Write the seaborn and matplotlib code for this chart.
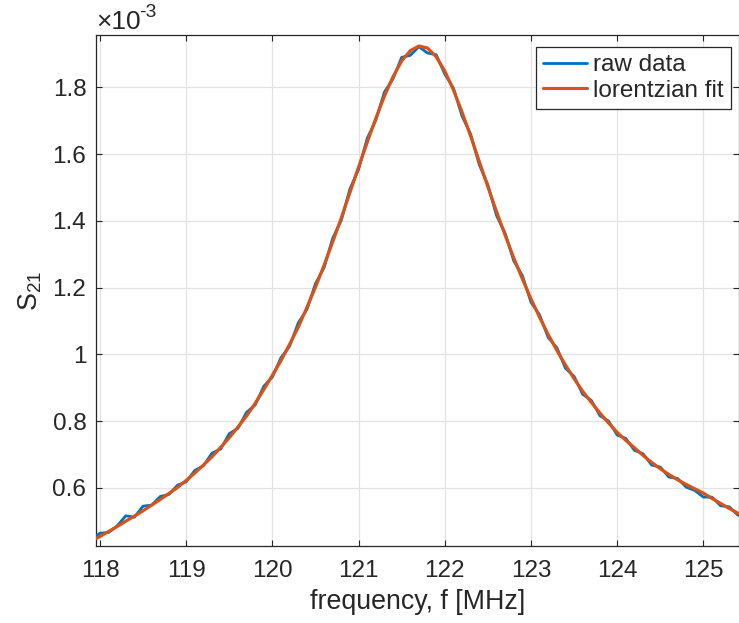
import matplotlib
matplotlib.use("Agg")
import matplotlib.pyplot as plt
import seaborn as sns
import pandas as pd

# frequency grid [MHz]
freq = [117.9, 118.0, 118.1, 118.2, 118.3, 118.4, 118.5, 118.6, 118.7, 118.8, 118.9,
        119.0, 119.1, 119.2, 119.3, 119.4, 119.5, 119.6, 119.7, 119.8, 119.9,
        120.0, 120.1, 120.2, 120.3, 120.4, 120.5, 120.6, 120.7, 120.8, 120.9,
        121.0, 121.1, 121.2, 121.3, 121.4, 121.5, 121.6, 121.7, 121.8, 121.9,
        122.0, 122.1, 122.2, 122.3, 122.4, 122.5, 122.6, 122.7, 122.8, 122.9,
        123.0, 123.1, 123.2, 123.3, 123.4, 123.5, 123.6, 123.7, 123.8, 123.9,
        124.0, 124.1, 124.2, 124.3, 124.4, 124.5, 124.6, 124.7, 124.8, 124.9,
        125.0, 125.1, 125.2, 125.3, 125.4, 125.5]

# S21 values in units of 1e-3
raw_s21 = [0.445, 0.464, 0.466, 0.486, 0.516, 0.512, 0.545, 0.548, 0.574, 0.580, 0.608,
           0.618, 0.652, 0.666, 0.704, 0.716, 0.762, 0.778, 0.826, 0.848, 0.904,
           0.932, 0.990, 1.024, 1.094, 1.134, 1.212, 1.260, 1.348, 1.402, 1.496,
           1.554, 1.647, 1.702, 1.786, 1.826, 1.890, 1.896, 1.922, 1.903, 1.898,
           1.840, 1.798, 1.714, 1.660, 1.568, 1.508, 1.416, 1.363, 1.280, 1.236,
           1.156, 1.118, 1.050, 1.020, 0.958, 0.934, 0.880, 0.862, 0.816, 0.800,
           0.758, 0.748, 0.712, 0.702, 0.668, 0.662, 0.632, 0.628, 0.602, 0.592,
           0.572, 0.572, 0.546, 0.543, 0.518, 0.515]

fit_s21 = [0.440, 0.454, 0.469, 0.484, 0.500, 0.515, 0.531, 0.548, 0.565, 0.583, 0.601,
           0.622, 0.644, 0.668, 0.693, 0.721, 0.750, 0.782, 0.815, 0.853, 0.894,
           0.937, 0.981, 1.030, 1.081, 1.140, 1.201, 1.267, 1.337, 1.409, 1.485,
           1.561, 1.635, 1.707, 1.774, 1.832, 1.879, 1.910, 1.924, 1.918, 1.892,
           1.849, 1.793, 1.726, 1.654, 1.578, 1.502, 1.428, 1.357, 1.289, 1.226,
           1.166, 1.111, 1.059, 1.012, 0.968, 0.927, 0.889, 0.856, 0.824, 0.794,
           0.766, 0.742, 0.720, 0.697, 0.676, 0.657, 0.640, 0.624, 0.610, 0.597,
           0.584, 0.568, 0.553, 0.538, 0.524, 0.512]

x_ticks = [118, 119, 120, 121, 122, 123, 124, 125]
x_tick_labels = ["118", "119", "120", "121", "122", "123", "124", "125"]
y_ticks = [0.6, 0.8, 1.0, 1.2, 1.4, 1.6, 1.8]
y_tick_labels = ["0.6", "0.8", "1", "1.2", "1.4", "1.6", "1.8"]

sns.set_style("ticks")
plt.rcParams['font.family'] = ['Liberation Sans', 'DejaVu Sans']
plt.rcParams['mathtext.fontset'] = 'custom'
plt.rcParams['mathtext.rm'] = 'Liberation Sans'
plt.rcParams['mathtext.it'] = 'Liberation Sans:italic'
plt.rcParams['mathtext.bf'] = 'Liberation Sans:bold'

W, H = 739, 623
fig = plt.figure(figsize=(W / 100, H / 100), dpi=100)
ax = fig.add_axes([96 / W, 1 - 546 / H, (739 - 96) / W, (546 - 35) / H])

df = pd.DataFrame({"f": freq, "raw": raw_s21, "fit": fit_s21})
blue = "#0072BD"
orange = "#D95319"
sns.lineplot(data=df, x="f", y="raw", color=blue, lw=2.0, label="raw data",
             ax=ax, sort=False, zorder=3)
sns.lineplot(data=df, x="f", y="fit", color=orange, lw=2.3, label="lorentzian fit",
             ax=ax, sort=False, zorder=4)

ax.set_xlim(117.954, 125.413)
ax.set_ylim(0.4255, 1.957)
ax.set_xticks(x_ticks)
ax.set_xticklabels(x_tick_labels)
ax.set_yticks(y_ticks)
ax.set_yticklabels(y_tick_labels)

ax.grid(True, color="#e3e3e3", lw=0.9, zorder=0)
ax.set_axisbelow(True)
for s in ax.spines.values():
    s.set_color("#262626")
    s.set_linewidth(0.9)
    s.set_visible(True)
ax.tick_params(direction="in", top=True, right=True, length=4.5, width=0.8,
               colors="#262626", labelsize=17.5, pad=7)
ax.tick_params(axis="x", pad=10)
for lbl in ax.get_xticklabels() + ax.get_yticklabels():
    lbl.set_color("#262626")

ax.set_xlabel("frequency, f [MHz]", fontsize=19.3, color="#262626", labelpad=5)
ax.set_ylabel(r"S$_{\mathrm{21}}$", fontsize=19.3, color="#262626", labelpad=6)

fig.text(96 / W, 1 - 29 / H, "×10", fontsize=19, color="#262626",
         ha="left", va="baseline")
fig.text(139 / W, 1 - 17 / H, "-3", fontsize=14, color="#262626",
         ha="left", va="baseline")

leg = ax.legend(loc="upper right", bbox_to_anchor=((731 - 96) / 643, 1 - 12 / 511),
                borderaxespad=0, fontsize=17.5, frameon=True, fancybox=False,
                handlelength=1.8, handletextpad=0.25, labelspacing=0.15,
                borderpad=0.3)
leg.get_frame().set_edgecolor("#262626")
leg.get_frame().set_linewidth(0.9)
leg.get_frame().set_alpha(1)
for t in leg.get_texts():
    t.set_color("#262626")

fig.savefig("out.png", dpi=100)
